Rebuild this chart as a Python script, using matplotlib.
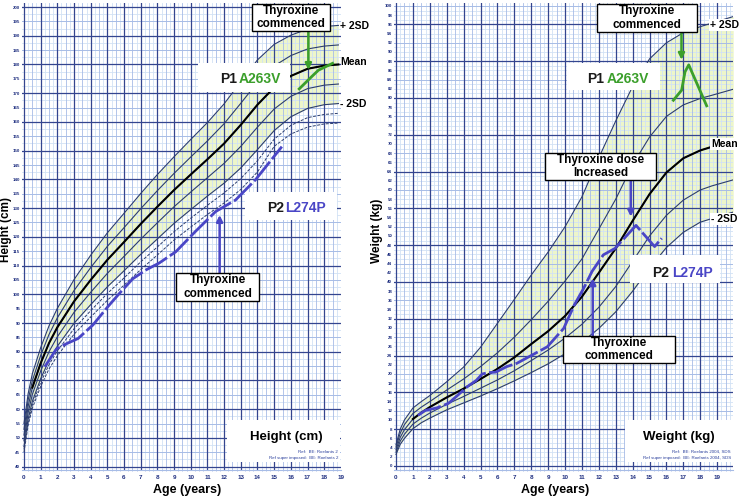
import numpy as np
import matplotlib
matplotlib.use('Agg')
import matplotlib.pyplot as plt
from matplotlib.patches import Rectangle

plt.rcParams['font.family'] = ['Liberation Sans', 'DejaVu Sans']

# ---------------- data ----------------
# Height reference, SDS lines (cm)
h_age = [0, 0.25, 0.5, 1, 1.5, 2, 3, 4, 5, 6, 7, 8, 9, 10, 11, 12, 13, 14, 15, 16, 17, 18, 18.85]
h_p2sd = [55.0, 65.4, 72.3, 81.4, 89.0, 95.1, 105.1, 113.6, 121.4, 128.2, 135.1, 141.7, 147.9, 153.9,
          159.8, 166.3, 174.0, 181.6, 187.0, 190.2, 192.3, 193.2, 193.6]
h_p1sd = [53.0, 63.2, 69.9, 78.7, 86.0, 91.8, 101.3, 109.3, 116.7, 123.2, 129.8, 136.1, 142.1, 147.8,
          153.4, 159.4, 166.5, 173.8, 179.5, 183.1, 185.4, 186.4, 186.8]
h_mean = [51.0, 61.0, 67.5, 76.0, 83.0, 88.5, 97.5, 105.0, 112.0, 118.2, 124.5, 130.5, 136.3, 141.7,
          147.0, 152.5, 159.0, 166.0, 172.0, 176.0, 178.5, 179.6, 180.0]
h_m1sd = [49.0, 58.8, 65.1, 73.3, 80.0, 85.2, 93.7, 100.7, 107.3, 113.2, 119.2, 124.9, 130.5, 135.6,
          140.6, 145.6, 151.5, 158.2, 164.5, 168.9, 171.6, 172.8, 173.2]
h_m2sd = [47.0, 56.6, 62.7, 70.6, 77.0, 81.9, 89.9, 96.4, 102.6, 108.2, 113.9, 119.3, 124.7, 129.5,
          134.2, 138.7, 144.0, 150.4, 157.0, 161.8, 164.7, 166.0, 166.4]
h_m25sd = [46.0, 55.5, 61.5, 69.3, 75.5, 80.3, 88.0, 94.3, 100.3, 105.7, 111.3, 116.5, 121.8, 126.5,
           131.0, 135.3, 140.3, 146.5, 154.0, 158.8, 161.5, 162.6, 163.0]
h_m3sd = [45.0, 54.4, 60.3, 67.9, 74.0, 78.6, 86.1, 92.1, 97.9, 103.2, 108.6, 113.7, 118.9, 123.4,
          127.8, 131.8, 136.5, 142.6, 151.5, 155.8, 158.2, 159.3, 159.6]

# Patient heights
p2_h_age = [1.25, 1.95, 2.55, 3.24, 4.13, 5.03, 5.72, 6.52, 7.32, 8.11, 9.1, 10.3, 11.49, 12.68, 13.87, 15.46]
p2_h = [74.8, 81.0, 82.8, 84.6, 89.3, 95.7, 100.3, 105.4, 108.5, 110.9, 114.8, 122.0, 128.8, 132.8, 139.8, 151.4]
p1_h_age = [16.5, 17.2, 17.65, 18.5]
p1_h = [171.5, 175.5, 178.0, 180.4]

# Weight reference, SDS lines (kg)
w_age = [0, 0.25, 0.5, 1, 1.5, 2, 3, 4, 5, 6, 7, 8, 9, 10, 11, 12, 13, 14, 15, 16, 17, 18, 18.7, 19.95]
w_p2sd = [4.6, 8.0, 10.0, 12.6, 14.0, 15.3, 18.3, 21.5, 25.8, 31.0, 36.2, 41.5, 46.5, 52.0, 58.5, 67.0,
          75.0, 82.5, 88.5, 92.0, 94.2, 95.5, 96.3, 97.7]
w_p1sd = [4.1, 7.1, 9.0, 11.4, 12.8, 14.0, 16.5, 18.9, 21.6, 24.6, 28.0, 31.8, 35.8, 40.2, 45.0, 51.5,
          58.0, 65.5, 71.5, 76.0, 78.5, 79.9, 80.6, 81.9]
w_mean = [3.5, 6.2, 7.9, 10.2, 11.6, 12.8, 14.9, 16.8, 18.9, 21.1, 23.6, 26.5, 29.3, 32.6, 36.8, 42.0,
          47.3, 53.3, 59.1, 63.8, 66.9, 68.6, 69.4, 70.6]
w_m1sd = [3.0, 5.4, 6.9, 9.1, 10.4, 11.5, 13.4, 15.1, 16.9, 18.7, 20.7, 22.9, 25.2, 27.8, 30.8, 34.5,
          39.0, 44.5, 50.0, 54.5, 57.8, 60.0, 60.9, 62.2]
w_m2sd = [2.5, 4.7, 6.0, 8.1, 9.4, 10.4, 12.2, 13.7, 15.2, 16.8, 18.5, 20.3, 22.2, 24.4, 26.9, 29.9,
          33.5, 38.0, 43.0, 47.5, 50.8, 53.0, 53.8, 55.2]

# Patient weights
p2_w_age = [1.3, 1.75, 2.4, 3.1, 3.6, 4.2, 4.75, 5.1, 5.5, 5.9, 6.55, 7.14, 8.95, 9.92, 10.55, 11.1,
            11.6, 12.27, 12.96, 14.2, 15.3, 15.72]
p2_w = [11.0, 12.1, 12.6, 13.6, 15.2, 17.2, 18.6, 20.0, 20.3, 20.4, 21.6, 22.3, 25.9, 29.9, 35.0, 38.6,
        42.3, 45.9, 47.3, 52.3, 47.7, 49.5]
p1_w_age = [16.41, 16.9, 17.1, 17.32, 18.38]
p1_w = [79.5, 81.7, 85.7, 87.2, 78.3]

age_ticks = list(range(20))
height_ticks = list(range(40, 201, 5))
weight_ticks = list(range(0, 101, 2))

# ---------------- style ----------------
GRID_DARK = '#34458f'
GRID_MID = '#a7bce6'
GRID_LIGHT = '#d2e2f5'
CURVE = '#2c3d6e'
FILL = '#edf6ca'
GREEN = '#3b9f2b'
BLUE = '#4a46c6'
TICK_BLUE = '#1f2f80'

W, H = 741, 499
fig = plt.figure(figsize=(W / 100, H / 100), dpi=100)


def px_rect(l, t, r, b):
    return [l / W, 1 - b / H, (r - l) / W, (b - t) / H]


def ftext(x, y, s, **kw):
    return fig.text(x / W, 1 - y / H, s, **kw)


def fbox(l, t, r, b, edge=True):
    fig.add_artist(Rectangle((l / W, 1 - b / H), (r - l) / W, (b - t) / H,
                             transform=fig.transFigure, facecolor='white',
                             edgecolor='black' if edge else 'none', lw=1.0, zorder=5))


def setup(ax, xlim, ylim, yticks, hstep_dark, hstep_mid, hstep_light):
    ax.set_xlim(*xlim)
    ax.set_ylim(*ylim)
    for x in np.arange(0, xlim[1] + 0.01, 0.25):
        if abs(x - round(x)) < 1e-6:
            ax.axvline(x, color=GRID_DARK, lw=0.9, zorder=1)
        elif abs(x * 2 - round(x * 2)) < 1e-6:
            ax.axvline(x, color=GRID_MID, lw=0.6, zorder=0.9)
        else:
            ax.axvline(x, color=GRID_LIGHT, lw=0.6, zorder=0.8)
    y = np.ceil(ylim[0] / hstep_light) * hstep_light
    while y <= ylim[1]:
        if abs(y % hstep_dark) < 1e-6:
            ax.axhline(y, color=GRID_DARK, lw=0.9, zorder=1)
        elif abs(y % hstep_mid) < 1e-6:
            ax.axhline(y, color=GRID_MID, lw=0.7, zorder=0.9)
        else:
            ax.axhline(y, color=GRID_LIGHT, lw=0.6, zorder=0.8)
        y += hstep_light
    for name, s in ax.spines.items():
        s.set_visible(name == 'bottom')
    ax.spines['bottom'].set_color(GRID_MID)
    ax.spines['bottom'].set_linewidth(0.8)
    ax.set_xticks(age_ticks)
    ax.set_xticks(np.arange(0, xlim[1], 0.25), minor=True)
    ax.set_xticklabels([str(a) for a in age_ticks], fontsize=4.5, fontweight='bold', color=TICK_BLUE)
    ax.set_yticks(yticks)
    ax.set_yticklabels([str(v) for v in yticks], fontsize=3.2, fontweight='bold', color=TICK_BLUE)
    ax.tick_params(axis='y', which='major', length=0, pad=1.5)
    ax.tick_params(axis='x', which='major', length=0, pad=3.5)
    ax.tick_params(axis='x', which='minor', length=2, width=0.6, color=GRID_MID, direction='inout')


axL = fig.add_axes(px_rect(22.3, 3, 340.9, 470.4))
setup(axL, (-0.1, 18.9), (38.7, 201.4), height_ticks, 10, 5, 2.5)
axR = fig.add_axes(px_rect(394.3, 3, 733.2, 470.1))
setup(axR, (-0.1, 19.95), (-0.9, 100.65), weight_ticks, 8, 4, 1)

# ---- height chart ----
axL.fill_between(h_age, h_m2sd, h_p2sd, color=FILL, lw=0, zorder=0.5)
for vals in (h_p2sd, h_p1sd, h_mean, h_m1sd, h_m2sd):
    axL.plot(h_age, vals, color=CURVE, lw=0.8, zorder=3)
for vals in (h_m25sd, h_m3sd):
    axL.plot(h_age, vals, color=CURVE, lw=0.7, ls=(0, (3, 1.5)), zorder=3)
axL.plot(h_age[2:], h_mean[2:], color='black', lw=1.5, zorder=3.5)
axL.plot(p2_h_age, p2_h, color=BLUE, lw=2.0, ls=(0, (9, 1.2)), zorder=4)
axL.plot(p1_h_age, p1_h, color=GREEN, lw=2.0, zorder=4)

# ---- weight chart ----
axR.fill_between(w_age, w_m2sd, w_p2sd, color=FILL, lw=0, zorder=0.5)
for vals in (w_p2sd, w_p1sd, w_mean, w_m1sd, w_m2sd):
    axR.plot(w_age, vals, color=CURVE, lw=0.8, zorder=3)
axR.plot(w_age[3:-1], w_mean[3:-1], color='black', lw=1.5, zorder=3.5)
axR.plot(p2_w_age, p2_w, color=BLUE, lw=2.0, ls=(0, (9, 1.2)), zorder=4)
axR.plot(p1_w_age, p1_w, color=GREEN, lw=2.0, zorder=4)

# ---- arrows ----
arrow_kw = dict(arrowstyle='-|>', lw=1.8, mutation_scale=9, shrinkA=0, shrinkB=0)
axL.annotate('', xy=(17.05, 178.1), xytext=(17.05, 191.8),
             arrowprops=dict(color=GREEN, **arrow_kw), zorder=6)
axL.annotate('', xy=(11.73, 127.6), xytext=(11.73, 107.5),
             arrowprops=dict(color=BLUE, **arrow_kw), zorder=6)
axR.annotate('', xy=(16.89, 88.3), xytext=(16.89, 94.4),
             arrowprops=dict(color=GREEN, **arrow_kw), zorder=6)
axR.annotate('', xy=(13.89, 54.2), xytext=(13.89, 62.2),
             arrowprops=dict(color=BLUE, **arrow_kw), zorder=6)
axR.annotate('', xy=(11.64, 40.8), xytext=(11.64, 28.3),
             arrowprops=dict(color=BLUE, **arrow_kw), zorder=6)

# ---- boxes and labels ----
box_txt = dict(fontsize=8.5, fontweight='bold', ha='center', va='center', linespacing=1.15, zorder=6)
fbox(252, 4, 330, 31)
ftext(291, 17.5, 'Thyroxine\ncommenced', **box_txt)
fbox(176, 273, 259, 301)
ftext(217.5, 287, 'Thyroxine\ncommenced', **box_txt)
fbox(597, 4, 697, 32)
ftext(647, 18, 'Thyroxine\ncommenced', **box_txt)
fbox(545, 153, 656, 180)
ftext(600.5, 166.5, 'Thyroxine dose\nIncreased', **box_txt)
fbox(563, 336, 675, 363)
ftext(619, 349.5, 'Thyroxine\ncommenced', **box_txt)

fbox(198, 63, 290, 92, edge=False)
fbox(245, 192, 337, 220, edge=False)
fbox(567, 63, 660, 90, edge=False)
fbox(630, 255, 720, 283, edge=False)
pt = dict(fontsize=10, fontweight='bold', ha='left', va='center', zorder=6)
ftext(220, 79, 'P1', color='#1a1a1a', **pt)
ftext(238.5, 79, 'A263V', color=GREEN, **pt)
ftext(266.7, 208, 'P2', color='#1a1a1a', **pt)
ftext(285, 208, 'L274P', color=BLUE, **pt)
ftext(586.7, 79, 'P1', color='#1a1a1a', **pt)
ftext(606.7, 79, 'A263V', color=GREEN, **pt)
ftext(651.7, 272.7, 'P2', color='#1a1a1a', **pt)
ftext(671.7, 272.7, 'L274P', color=BLUE, **pt)

sd_txt = dict(fontsize=7.5, fontweight='bold', ha='left', va='center', zorder=6)
ftext(340, 26, '+ 2SD', **sd_txt)
ftext(340, 62, 'Mean', **sd_txt)
ftext(340, 104, '- 2SD', **sd_txt)
sd_bg = dict(facecolor='white', edgecolor='none', pad=0.5)
ftext(710, 25, '+ 2SD', bbox=sd_bg, **sd_txt)
ftext(711, 144, 'Mean', bbox=sd_bg, **sd_txt)
ftext(711, 219, '- 2SD', bbox=sd_bg, **sd_txt)

fbox(227, 420, 340, 462, edge=False)
ftext(286, 437, 'Height (cm)', fontsize=9.5, fontweight='bold', ha='center', va='center', zorder=6)
ref_txt = dict(fontsize=3.2, color='#2a3f9c', ha='right', va='center', zorder=6)
ftext(338, 452, 'Ref:  BE: Roelants 2', **ref_txt)
ftext(338, 458.5, 'Ref super imposed:  BE: Roelants 2', **ref_txt)

fbox(625, 420, 733, 462, edge=False)
ftext(679, 437, 'Weight (kg)', fontsize=9.5, fontweight='bold', ha='center', va='center', zorder=6)
ftext(731, 452, 'Ref:  BE: Roelants 2004, SDS', **ref_txt)
ftext(731, 458.5, 'Ref super imposed:  BE: Roelants 2004, SDS', **ref_txt)

# axis titles
ftext(6, 230, 'Height (cm)', fontsize=8.5, fontweight='bold', rotation=90, ha='center', va='center')
ftext(377, 231, 'Weight (kg)', fontsize=8.5, fontweight='bold', rotation=90, ha='center', va='center')
ftext(187, 490, 'Age (years)', fontsize=9, fontweight='bold', ha='center', va='center')
ftext(555, 490, 'Age (years)', fontsize=9, fontweight='bold', ha='center', va='center')

fig.savefig('out.png', dpi=100)
